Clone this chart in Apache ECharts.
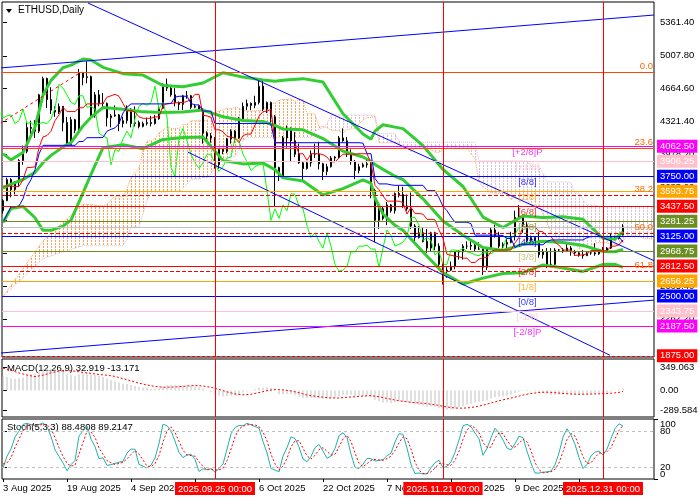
<!DOCTYPE html>
<html><head><meta charset="utf-8">
<script src="https://cdn.jsdelivr.net/npm/echarts@6/dist/echarts.min.js"></script>
<style>html,body{margin:0;padding:0;background:#fff}#chart{width:700px;height:500px}</style>
</head><body><div id="chart"></div>
<script>
// ================= DATA =================
// daily bars, index 0 = 3 Aug 2025
const openP = [3390,3495,3715,3610,3685,3915,4010,4260,4250,4220,
4600,4770,4550,4440,4420,4480,4310,4080,4340,4230,
4830,4780,4790,4380,4600,4510,4510,4360,4380,4390,
4300,4330,4450,4300,4310,4270,4300,4310,4300,4350,
4460,4710,4670,4600,4520,4500,4590,4590,4470,4480,
4450,4200,4170,4150,3870,4030,4010,4140,4220,4150,
4350,4480,4510,4490,4520,4690,4450,4520,4370,3840,
3750,4150,4250,4120,3980,3890,3830,3890,3980,3980,
3880,3800,3850,3940,3950,4150,4120,3980,3900,3810,
3850,3870,3880,3600,3290,3410,3310,3450,3390,3570,
3560,3440,3410,3230,3110,3160,3070,3000,3160,3020,
2830,2760,2770,2810,2960,2960,3020,3020,3030,2990,
2990,2800,3000,3190,3130,3020,3040,3060,3120,3320,
3320,3240,3080,3110,3080,2930,2960,2830,2830,2980,
2980,2970,3000,2960,2950,2930,2920,2950,2950,2940,
2970,2970,3000,3120,3100,3140];
const highP = [3510,3735,3730,3700,3930,4070,4325,4330,4335,4610,
4790,4780,4680,4480,4510,4480,4370,4370,4350,4870,
4840,4950,4800,4630,4650,4620,4520,4400,4490,4400,
4370,4490,4460,4480,4330,4320,4360,4380,4390,4480,
4720,4770,4680,4670,4530,4600,4640,4600,4500,4490,
4460,4220,4200,4160,4040,4040,4150,4240,4230,4370,
4520,4550,4520,4590,4760,4750,4530,4530,4390,3850,
4170,4280,4260,4210,4090,3900,3900,4020,4090,4110,
3890,3880,3960,3960,4170,4250,4160,4030,3920,3880,
3890,3920,3890,3620,3460,3440,3480,3460,3580,3650,
3640,3560,3580,3250,3230,3210,3200,3170,3170,3050,
2850,2800,2860,2970,2980,3040,3070,3080,3040,3060,
3000,3010,3210,3240,3170,3060,3100,3170,3390,3450,
3330,3270,3130,3110,3170,2990,3000,3000,3000,2990,
3000,3060,3020,2980,2960,2980,2960,2960,3050,2990,
3010,3010,3150,3130,3150,3250];
const lowP = [3360,3490,3530,3560,3650,3870,3990,4150,4150,4200,
4580,4460,4400,4370,4400,4220,4060,4070,4200,4230,
4700,4720,4360,4360,4480,4450,4270,4260,4370,4220,
4260,4300,4260,4270,4250,4260,4280,4270,4290,4340,
4450,4640,4580,4480,4440,4440,4560,4450,4460,4440,
4090,4130,4100,3830,3830,3980,3990,4090,4100,4140,
4340,4440,4440,4460,4500,4430,4410,4300,3440,3700,
3740,4050,3900,3950,3880,3690,3820,3850,3940,3820,
3710,3760,3840,3910,3940,4110,3950,3870,3720,3780,
3840,3840,3520,3060,3200,3290,3240,3370,3360,3530,
3420,3390,3200,3070,3100,3060,2950,2960,2980,2800,
2620,2690,2760,2780,2880,2880,2990,2980,2960,2980,
2720,2770,2990,3110,3000,3000,2990,3050,3080,3300,
3160,3060,3070,3040,2900,2890,2790,2800,2820,2960,
2950,2960,2920,2920,2910,2890,2920,2930,2920,2930,
2960,2960,2990,3080,3090,3130];
const closeP = [3495,3715,3610,3685,3915,4010,4260,4250,4220,4600,
4770,4550,4440,4420,4480,4310,4080,4340,4230,4830,
4780,4790,4380,4600,4510,4510,4360,4380,4390,4300,
4330,4450,4300,4310,4270,4300,4310,4300,4350,4460,
4710,4670,4600,4520,4500,4590,4590,4470,4480,4450,
4200,4170,4150,3870,4030,4010,4140,4220,4150,4350,
4480,4510,4490,4520,4690,4450,4520,4370,3840,3750,
4150,4250,4120,3980,3890,3830,3890,3980,3980,3880,
3800,3850,3940,3950,4150,4120,3980,3900,3810,3850,
3870,3880,3600,3290,3410,3310,3450,3390,3570,3560,
3440,3410,3230,3110,3160,3070,3000,3160,3020,2830,
2760,2770,2810,2960,2960,3020,3020,3030,2990,2990,
2800,3000,3190,3130,3020,3040,3060,3120,3320,3320,
3240,3080,3110,3080,2930,2960,2830,2830,2980,2980,
2970,3000,2960,2950,2930,2920,2950,2950,2940,2970,
2970,3000,3120,3100,3140,3220];

// Bollinger bands (20,2) [barIndex, price]
const bbUpper = [[0,3986],[2,3921],[5,3998],[8,4263],[10,4598],[12,4751],[15,4883],[17,4910],[20,4973],[22,4964],[25,4887],[30,4821],[35,4806],[40,4697],[45,4685],[50,4723],[55,4830],[60,4785],[65,4755],[68,4742],[70,4753],[75,4769],[80,4733],[85,4403],[90,4191],[92,4137],[93,4221],[95,4288],[98,4263],[100,4247],[105,4070],[110,3821],[115,3643],[120,3324],[125,3215],[130,3336],[135,3319],[140,3326],[145,3301],[150,3100],[153,3094],[155,3172]];
const bbMiddle = [[0,3626],[2,3667],[5,3716],[8,3790],[10,3891],[12,3968],[15,4056],[17,4101],[20,4275],[22,4367],[25,4467],[30,4450],[35,4422],[40,4415],[45,4420],[50,4441],[55,4371],[60,4332],[65,4321],[68,4280],[70,4243],[75,4235],[80,4144],[85,4012],[90,3951],[92,3906],[93,3872],[95,3822],[98,3750],[100,3716],[105,3514],[110,3282],[115,3134],[120,3005],[125,2975],[130,3039],[135,3071],[140,3059],[145,3028],[150,2964],[153,2962],[155,2985]];
const bbLower = [[0,3266],[2,3413],[5,3435],[8,3317],[10,3185],[12,3185],[15,3229],[17,3292],[20,3577],[22,3770],[25,4048],[30,4080],[35,4038],[40,4134],[45,4155],[50,4160],[55,3913],[60,3879],[65,3887],[68,3819],[70,3733],[75,3701],[80,3555],[85,3621],[90,3711],[92,3676],[93,3523],[95,3356],[98,3237],[100,3185],[105,2959],[110,2744],[115,2625],[120,2686],[125,2735],[130,2743],[135,2824],[140,2793],[145,2756],[150,2829],[153,2830],[155,2799]];
// Ichimoku (9,26,52): tenkan / kijun one value per bar
const tenkan = [3647.5,3647.5,3647.5,3642.5,3642.5,3712.5,3840,3842.5,3847.5,4050,
4160,4175,4220,4330,4390,4470,4425,4425,4425,4465,
4465,4505,4505,4505,4505,4510,4575,4590,4605,4585,
4510,4435,4435,4420,4370,4355,4355,4355,4370,4370,
4485,4510,4510,4515,4520,4520,4530,4555,4605,4605,
4385,4380,4365,4235,4235,4215,4165,4160,4145,4100,
4175,4190,4190,4285,4375,4425,4430,4450,4100,4100,
4100,4100,4100,4095,3985,3985,3915,3985,3985,3985,
3975,3950,3900,3900,3940,3980,3980,3980,3980,3985,
3985,3985,3885,3655,3610,3545,3490,3490,3490,3490,
3475,3355,3425,3360,3360,3355,3300,3300,3295,3190,
3100,2935,2925,2915,2910,2895,2895,2850,2850,2885,
2900,2900,2965,2980,2980,2980,2980,2980,3055,3110,
3220,3220,3220,3220,3175,3170,3120,3120,3060,3030,
2980,2980,2980,2925,2925,2930,2940,2975,2975,2975,
2970,2970,3020,3020,3035,3085];
const kijun = [3270,3350,3430,3430,3440,3515,3642.5,3715,3817.5,3982.5,
4072.5,4072.5,4072.5,4072.5,4072.5,4072.5,4072.5,4072.5,4072.5,4112.5,
4112.5,4152.5,4152.5,4152.5,4152.5,4155,4220,4240,4255,4300,
4410,4470,4505,4505,4505,4505,4505,4505,4505,4505,
4505,4505,4510,4575,4585,4585,4585,4510,4495,4495,
4430,4430,4430,4300,4300,4300,4300,4300,4300,4300,
4300,4300,4300,4300,4300,4300,4300,4295,4100,4100,
4100,4100,4100,4100,4100,4100,4100,4100,4100,4100,
4100,4100,4100,4100,4100,4100,4100,4100,4100,4100,
4095,3985,3985,3725,3670,3670,3670,3660,3655,3655,
3655,3655,3655,3655,3655,3655,3600,3600,3600,3525,
3435,3390,3325,3270,3270,3270,3270,3255,3135,3135,
3135,3135,3135,3135,3135,3130,3100,3100,3005,3035,
3035,3035,3035,3035,3035,3035,3070,3085,3085,3085,
3085,3085,3085,3085,3085,3085,3110,3120,3120,3120,
3120,3120,3120,3120,3120,3060];
// Senkou spans, value at source bar 0..137 (plotted kumoShift bars ahead)
const senkouA = [3459,3499,3539,3536,3541,3614,3741,3779,3832.5,4016,
4116,4124,4146,4201,4231,4271,4249,4249,4249,4289,
4289,4329,4329,4329,4329,4332.5,4397.5,4415,4430,4442.5,
4460,4452.5,4470,4462.5,4437.5,4430,4430,4430,4437.5,4437.5,
4495,4507.5,4510,4545,4552.5,4552.5,4557.5,4532.5,4550,4550,
4407.5,4405,4397.5,4267.5,4267.5,4257.5,4232.5,4230,4222.5,4200,
4237.5,4245,4245,4292.5,4337.5,4362.5,4365,4372.5,4100,4100,
4100,4100,4100,4097.5,4042.5,4042.5,4007.5,4042.5,4042.5,4042.5,
4037.5,4025,4000,4000,4020,4040,4040,4040,4040,4042.5,
4040,3985,3935,3690,3640,3607.5,3580,3575,3572.5,3572.5,
3565,3505,3540,3507.5,3507.5,3505,3450,3450,3447.5,3357.5,
3267.5,3162.5,3125,3092.5,3090,3082.5,3082.5,3052.5,2992.5,3010,
3017.5,3017.5,3050,3057.5,3057.5,3055,3040,3040,3030,3072.5,
3127.5,3127.5,3127.5,3127.5,3105,3102.5,3095,3102.5];
const senkouB = [3025,3025,3025,3025,3025,3090,3217.5,3220,3222.5,3360,
3495,3585,3585,3585,3585,3590,3590,3590,3590,3630,
3670,3710,3720,3725,3735,3735,3775,3855,3935,3935,
3945,3955,3955,4025,4125,4152.5,4152.5,4152.5,4152.5,4152.5,
4152.5,4152.5,4152.5,4152.5,4152.5,4152.5,4152.5,4152.5,4152.5,4152.5,
4152.5,4155,4220,4240,4255,4300,4390,4390,4390,4390,
4390,4390,4390,4390,4390,4390,4390,4390,4195,4195,
4195,4195,4195,4120,4105,4105,4105,4105,4105,4105,
4105,4105,4105,4105,4105,4105,4105,4105,4105,4105,
4105,4105,4105,3910,3910,3910,3910,3910,3910,3910,
3910,3910,3910,3910,3910,3910,3855,3855,3855,3780,
3690,3690,3690,3690,3690,3690,3685,3575,3575,3505,
3450,3450,3450,3440,3435,3435,3435,3435,3435,3435,
3435,3435,3435,3435,3435,3435,3435,3390];
// kumo points before the first bar's projection [displayIndex]
const kumoEarlyIdx = [0,10,20,25];
const kumoEarlyA = [2495,3075,3462,3439];
const kumoEarlyB = [2495,2890,3025,3025];
const kumoShift = 26;
const chikouShift = 26;

// MACD(12,26,9): main line (histogram), one value per bar
const macdMain = [207,199.1,182.4,173.2,182.3,194.9,222.5,240.8,250.0,284.6,
322.1,330.2,324.1,314.1,307.3,285.0,246.0,233.3,212.0,240.6,
256.4,266.5,238.7,231.8,216.6,202.2,176.7,156.3,139.3,117.3,
101.1,96.8,80.3,67.3,53.1,43.8,36.8,30.2,28.6,35.8,
60.9,76.8,82.7,80.1,75.5,78.2,79.5,69.9,62.4,53.5,
25.9,1.6,-18.9,-57.3,-73.8,-87.6,-87.1,-79.3,-77.8,-59.8,
-34.7,-12.2,3.9,18.9,44.0,44.1,49.1,40.6,-8.8,-54.6,
-57.9,-51.9,-57.0,-71.5,-89.3,-106.9,-114.8,-112.4,-109.2,-113.4,
-121.9,-123.1,-115.5,-107.4,-83.9,-67.0,-64.1,-67.5,-76.5,-79.6,
-79.5,-77.7,-97.7,-136.9,-156.6,-178.1,-181.9,-187.5,-175.4,-164.7,
-170,-172,-186,-205,-215,-228,-242,-238,-244,-262,
-280,-289.6,-287,-271,-254,-233,-213,-194,-180,-167,
-160.9,-146.8,-118.9,-100.5,-93.7,-85.7,-76.8,-64.2,-37.8,-16.6,
-6.1,-10.6,-11.6,-14.7,-28.9,-37.3,-53.8,-66.2,-63.2,-60.1,
-57.8,-52.9,-51.7,-50.9,-51.3,-51.9,-49.4,-46.8,-45.0,-40.7,
-36.8,-31.0,-16.5,-2,14,32.919];
// MACD signal [barIndex, value]
const macdSignal = [[0,331],[2,300],[4,260],[6,230],[8,206],[10,228.1],[12,261.3],[14,288.4],[16,295.9],[18,286.0],[20,268.8],[22,254.0],[24,238.0],[26,226.8],[28,209.4],[30,175.6],[32,143.0],[34,109.8],[36,81.8],[38,59.8],[40,48.5],[42,49.9],[44,56.4],[46,66.5],[48,74.0],[50,67.5],[52,47.5],[54,15.9],[56,-20.1],[58,-50.5],[60,-64.0],[62,-56.5],[64,-31.6],[66,-2.7],[68,16.1],[70,8.8],[72,-5.8],[74,-33.5],[76,-68.1],[78,-85.7],[80,-99.6],[82,-111.8],[84,-111.3],[86,-100.6],[88,-91.9],[90,-82.3],[92,-77.1],[94,-92.9],[96,-118.3],[98,-141.3],[100,-161.0],[102,-174.7],[104,-184.2],[106,-195.3],[108,-211.1],[110,-233.3],[112,-254.0],[114,-263.1],[116,-259.3],[118,-244.6],[120,-217.8],[122,-185.3],[124,-152.8],[126,-125.6],[128,-98.4],[130,-66.7],[132,-44.8],[134,-29.7],[136,-24.2],[138,-32.5],[140,-43.7],[142,-52.4],[144,-56.4],[146,-54.4],[148,-50.9],[150,-47.2],[152,-41.0],[154,-28.2],[155,-13.171]];
// Stochastic(5,3,3) main and signal, one value per bar
const stochK = [18,38,50,70,80,91,92.8,90.4,88.4,90.7,
93.5,87.6,70.7,48.7,37.6,26.8,13.8,23.9,30.9,71.3,
80.2,88.4,66.4,54.0,34.0,35.3,22.8,23.8,26.0,28.0,
29.4,43.3,50.0,49.4,24.4,21.3,18.3,22.9,35.0,59.3,
91.4,88.9,80.4,63.1,44.4,35.8,40.0,41.3,32.8,12.7,
16.8,15.9,17.0,11.4,17.6,25.0,49.6,75.2,85.7,89.3,
88.7,92.8,90.3,87.5,84.8,62.5,43.6,17.5,15,12,
38.2,52.4,70.3,67.6,53.6,33.3,28.8,37.5,52.3,57.5,
46.7,34.4,38.3,50.8,72.2,77.0,69.1,41.4,19.7,17.4,
24.7,34.4,33.9,29.9,31.1,32.2,38.8,43.1,61.6,75.6,
74.2,51.4,24.3,9.1,10.0,8.4,8.7,18.6,27.3,31.3,
18.9,20.8,28.6,44.4,64.9,88.6,91.2,87.5,76.5,67.1,
39.5,51.1,68.6,84.7,77.1,64.9,51.6,48.5,58.9,71.2,
68.9,46.2,26.4,10.0,9.8,11.5,11.8,13.2,23.7,43.3,
70.0,83.8,73.2,57.8,35.8,17.4,24.4,38.5,44.7,46.3,
40.0,50.0,67.3,84,92,88.48];
const stochD = [25,27,35.3,52.7,66.7,80.3,87.9,91.4,90.5,89.8,
90.9,90.6,83.9,69.0,52.3,37.7,26.1,21.5,22.9,42.0,
60.8,80.0,78.3,69.6,51.5,41.1,30.7,27.3,24.2,25.9,
27.8,33.6,40.9,47.6,41.3,31.7,21.3,20.8,25.4,39.1,
61.9,79.9,86.9,77.5,62.6,47.8,40.1,39.0,38.0,28.9,
20.8,15.1,16.6,14.8,15.3,18.0,30.7,49.9,70.2,83.4,
87.9,90.3,90.6,90.2,87.5,78.3,63.6,41.2,25.4,14.8,
21.7,34.2,53.6,63.4,63.8,51.5,38.6,33.2,39.5,49.1,
52.2,46.2,39.8,41.2,53.8,66.7,72.8,62.5,43.4,26.2,
20.6,25.5,31.0,32.7,31.6,31.1,34.0,38.0,47.8,60.1,
70.5,67.1,50.0,28.3,14.5,9.2,9.0,11.9,18.2,25.7,
25.8,23.7,22.8,31.3,46.0,66.0,81.6,89.1,85.1,77.0,
61.0,52.6,53.1,68.1,76.8,75.6,64.5,55.0,53.0,59.5,
66.3,62.1,47.2,27.5,15.4,10.4,11.0,12.2,16.2,26.7,
45.7,65.7,75.7,71.6,55.6,37.0,25.9,26.8,35.9,43.2,
43.7,45.4,52.4,67,81,89.21];

// Axis ticks / labels
const xTickIdx = [0,16,32,48,64,80,96,112,128,144];
const xTickLabels = ['3 Aug 2025','19 Aug 2025','4 Sep 2025','20 Sep 2025','6 Oct 2025','22 Oct 2025','7 Nov 2025','23 Nov 2025','9 Dec 2025','25 Dec 2025'];
const priceTicks = [5361.40,5007.80,4664.60,4321.40,3978.20,3635.00,3291.80,2948.60,2605.40,2262.20];
const macdTicks = [-289.584,0,349.063];
const macdTickLabels = ['-289.584','0.00','349.063'];
const stochLevelTicks = [20,80];
const stochEdgeTicks = [0,100];
// Murrey math levels
const murreyLevels = [4062.50,3906.25,3750.00,3593.75,3437.50,3281.25,3125.00,2968.75,2812.50,2656.25,2500.00,2343.75,2187.50];
const murreyNames = ['[+2/8]P','[+1/8]','[8/8]','[7/8]','[6/8]','[5/8]','[4/8]','[3/8]','[2/8]','[1/8]','[0/8]','[-1/8]','[-2/8]P'];
const murreyColors = ['#FF00FF','#FFC0CB','#0000FF','#FFA500','#FF0000','#6B8E23','#0000FF','#6B8E23','#FF0000','#FFA500','#0000FF','#FFC0CB','#FF00FF'];
const murreyTextColors = ['#FF00FF','#FFC0CB','#0000FF','#FFA500','#FF0000','#6B8E23','#0000FF','#BDB76B','#FF0000','#FFA500','#0000FF','#FFC0CB','#FF00FF'];
const extraLevel = 1875.00;
// Fibonacci retracement
const fibLevels = [4831,4040,3551,3156,2760];
const fibNames = ['0.0','23.6','38.2','50.0','61.8'];
const fibDashed = [false,false,true,true,true];
const fibAnchor = [[-0.75,4300],[19.25,4831]];
// trend lines [barIndex, price]
const trendTop = [[-0.75,4880],[162.75,5433]];
const trendDownUpper = [[21.25,5558],[162.75,2868]];
const trendDownLower = [[46.25,4001],[151.75,1881]];
const trendUpLower = [[-0.75,1904],[162.75,2457]];
// vertical markers
const vLineIdx = [53,110,150];
const vLineLabels = ['2025.09.25 00:00','2025.11.21 00:00','2025.12.31 00:00'];

// ================= CHART =================
const FONT = 'Liberation Sans';
const FS = 9.5;
const X_MIN = -0.25, X_MAX = 162.75;
const MURREY_TEXT_X = 131.1;
const chart = echarts.init(document.getElementById('chart'), null, {renderer:'canvas', width:700, height:500});

function hatch(color){
  const c = document.createElement('canvas'); c.width = 4; c.height = 3;
  const g = c.getContext('2d'); g.fillStyle = color; g.fillRect(3,0,1,2);
  return {image: c, repeat: 'repeat'};
}
const upPat = hatch('#F4A460'), dnPat = hatch('#D8BFD8');

const candleData = openP.map((o,i)=>[i, o, closeP[i], lowP[i], highP[i]]);
const chikou = closeP.map((c,i)=>[i-chikouShift, c]).filter(p=>p[0] >= -1);
const tenkanLine = tenkan.map((v,i)=>[i, v]);
const kijunLine = kijun.map((v,i)=>[i, v]);
const cloudPts = kumoEarlyIdx.map((x,k)=>[x, kumoEarlyA[k], kumoEarlyB[k]])
  .concat(senkouA.map((a,i)=>[i+kumoShift, a, senkouB[i]]));
const macdBars = macdMain.map((v,i)=>[i, v]);
const kLine = stochK.map((v,i)=>[i, v]);
const dLine = stochD.map((v,i)=>[i, v]);

function cloudRender(params, api){
  const k = params.dataIndex;
  if (k === 0) return null;
  const a = cloudPts[k-1], b = cloudPts[k];
  const P = (x,y)=>api.coord([x,y]);
  const d1 = a[1]-a[2], d2 = b[1]-b[2];
  const children = [];
  const poly = (pts, up)=>children.push({type:'polygon', shape:{points:pts}, style:{fill: up ? upPat : dnPat}});
  if (d1*d2 >= 0) {
    poly([P(a[0],a[1]),P(b[0],b[1]),P(b[0],b[2]),P(a[0],a[2])], (d1+d2) >= 0);
  } else {
    const t = d1/(d1-d2), xc = a[0]+t*(b[0]-a[0]), yc = a[1]+t*(b[1]-a[1]);
    poly([P(a[0],a[1]),P(xc,yc),P(a[0],a[2])], d1 > 0);
    poly([P(xc,yc),P(b[0],b[1]),P(b[0],b[2])], d2 > 0);
  }
  return {type:'group', children};
}

const gridBase = {show:true, borderColor:'#000', borderWidth:1, backgroundColor:'#fff', containLabel:false, outerBoundsMode:'none'};
const grids = [
  Object.assign({left:2, top:2, width:652, height:355}, gridBase),
  Object.assign({left:2, top:359, width:652, height:58}, gridBase),
  Object.assign({left:2, top:419, width:652, height:60}, gridBase)
];
function xAxisFor(idx){
  const show = idx === 2;
  return {type:'value', gridIndex:idx, min:X_MIN, max:X_MAX, axisLine:{show:false}, splitLine:{show:false},
    axisTick: show ? {show:true, customValues:xTickIdx, length:3, lineStyle:{color:'#000'}} : {show:false},
    axisLabel: show ? {show:true, customValues:xTickIdx, formatter:v=>xTickLabels[xTickIdx.indexOf(v)], align:'left', color:'#000', fontFamily:FONT, fontSize:FS, margin:4} : {show:false}};
}
const yLbl = {color:'#000', fontFamily:FONT, fontSize:FS, margin:6, align:'left', showMinLabel:true, showMaxLabel:true, hideOverlap:false};
const yAxes = [
  {type:'value', gridIndex:0, position:'right', min:1863, max:5569, axisLine:{show:false}, splitLine:{show:false},
    axisTick:{show:true, customValues:priceTicks, length:4, lineStyle:{color:'#000'}},
    axisLabel:Object.assign({customValues:priceTicks, formatter:v=>v.toFixed(2)}, yLbl)},
  {type:'value', gridIndex:1, position:'right', min:-393.5, max:467.9, axisLine:{show:false}, splitLine:{show:false},
    axisTick:{show:true, customValues:macdTicks, length:4, lineStyle:{color:'#000'}},
    axisLabel:Object.assign({customValues:macdTicks, formatter:v=>macdTickLabels[macdTicks.indexOf(v)]}, yLbl)},
  {type:'value', gridIndex:2, position:'right', min:0, max:100, axisLine:{show:false}, splitLine:{show:false},
    axisTick:{show:true, customValues:stochLevelTicks, length:4, lineStyle:{color:'#000'}},
    axisLabel:Object.assign({customValues:stochLevelTicks, formatter:v=>String(v)}, yLbl)},
  {type:'value', gridIndex:2, position:'right', min:0, max:100, axisLine:{show:false}, splitLine:{show:false},
    axisTick:{show:true, customValues:stochEdgeTicks, length:4, lineStyle:{color:'#000'}},
    axisLabel:Object.assign({customValues:stochEdgeTicks, formatter:v=>String(v), verticalAlignMinLabel:'bottom', verticalAlignMaxLabel:'top'}, yLbl)}
];

const boxLabel = (txt, bg)=>({show:true, position:'end', distance:3, formatter:txt, backgroundColor:bg, color:'#fff', padding:[1,3,0,3], fontFamily:FONT, fontSize:FS, lineHeight:12});
const hLines = [];
hLines.push({yAxis:closeP[closeP.length-1], lineStyle:{color:'#C0C0C0', width:1, type:'solid'}, label:{show:false}});
fibLevels.forEach((v,k)=>hLines.push({yAxis:v, lineStyle:{color: fibDashed[k] ? '#FF0000' : '#FF4500', width:1, type: fibDashed[k] ? [4,2] : 'solid'}, label:{show:true, position:'insideEndTop', distance:1, formatter:fibNames[k], color:'#FF6A00', fontFamily:FONT, fontSize:FS}}));
murreyLevels.forEach((v,k)=>hLines.push({yAxis:v, lineStyle:{color:murreyColors[k], width:1, type:'solid'}, label:boxLabel(v.toFixed(2), murreyColors[k])}));
hLines.push({yAxis:extraLevel, lineStyle:{color:'#FF0000', width:1, type:[3,2]}, label:boxLabel(extraLevel.toFixed(2), '#FF0000')});
const vLinesPlain = vLineIdx.map(x=>({xAxis:x, lineStyle:{color:'#FF0000', width:1, type:'solid'}, label:{show:false}}));
const vLinesLabeled = vLineIdx.map((x,k)=>({xAxis:x, lineStyle:{color:'#FF0000', width:1, type:'solid'},
  label:{show:true, position:'start', distance:3, formatter:vLineLabels[k], backgroundColor:'#FF0000', color:'#fff', padding:[1,3,0,3], fontFamily:FONT, fontSize:FS, lineHeight:12}}));

const lineS = (data, color, width, extra)=>Object.assign({type:'line', data, xAxisIndex:0, yAxisIndex:0, showSymbol:false, symbol:'none', lineStyle:{color, width}, silent:true, clip:true, z:3}, extra||{});

const option = {
  animation:false,
  textStyle:{fontFamily:FONT},
  grid:grids,
  xAxis:[xAxisFor(0), xAxisFor(1), xAxisFor(2)],
  yAxis:yAxes,
  series:[
    {type:'custom', name:'kumo', xAxisIndex:0, yAxisIndex:0, data:cloudPts, encode:{x:0, y:[1,2]}, renderItem:cloudRender, clip:true, silent:true, z:1},
    lineS(cloudPts.map(p=>[p[0], p[1]]), '#F4A460', 1, {lineStyle:{color:'#F4A460', width:1, type:[1,1]}, z:1}),
    lineS(cloudPts.map(p=>[p[0], p[2]]), '#D8BFD8', 1, {lineStyle:{color:'#D8BFD8', width:1, type:[1,1]}, z:1}),
    {type:'candlestick', xAxisIndex:0, yAxisIndex:0, data:candleData, barWidth:2, silent:true, z:2,
      itemStyle:{color:'#fff', color0:'#000', borderColor:'#000', borderColor0:'#000', borderWidth:1}},
    lineS(bbUpper, '#32CD32', 3),
    lineS(bbMiddle, '#32CD32', 3),
    lineS(bbLower, '#32CD32', 3),
    lineS(chikou, '#00FF00', 1),
    lineS(tenkanLine, '#FF0000', 1),
    lineS(kijunLine, '#0000FF', 1),
    lineS(trendTop, '#0000FF', 1, {z:4}),
    lineS(trendDownUpper, '#0000FF', 1, {z:4}),
    lineS(trendDownLower, '#0000FF', 1, {z:4}),
    lineS(trendUpLower, '#0000FF', 1, {z:4}),
    lineS(fibAnchor, '#FF0000', 1, {lineStyle:{color:'#FF0000', width:1, type:[3,3]}, z:4}),
    {type:'line', xAxisIndex:0, yAxisIndex:0, data:[[-100,3000]], symbol:'none', silent:true, z:4,
      markLine:{symbol:['none','none'], silent:true, animation:false, data:hLines.concat(vLinesPlain)}},
    {type:'scatter', xAxisIndex:0, yAxisIndex:0, symbolSize:0, silent:true, z:5,
      data:murreyLevels.map((v,k)=>({value:[MURREY_TEXT_X, v], label:{show:true, formatter:murreyNames[k], color:murreyTextColors[k], position:[0,1], align:'center', verticalAlign:'top', fontFamily:FONT, fontSize:FS}}))},
    // MACD
    {type:'bar', xAxisIndex:1, yAxisIndex:1, data:macdBars, barWidth:1, itemStyle:{color:'#C0C0C0'}, silent:true,
      markLine:{symbol:['none','none'], silent:true, animation:false, data:vLinesPlain}},
    {type:'line', xAxisIndex:1, yAxisIndex:1, data:macdSignal, symbol:'none', silent:true, lineStyle:{color:'#FF0000', width:1, type:[2,2]}},
    // Stochastic
    {type:'line', xAxisIndex:2, yAxisIndex:2, data:kLine, symbol:'none', silent:true, lineStyle:{color:'#20B2AA', width:1},
      markLine:{symbol:['none','none'], silent:true, animation:false, data:[
        {yAxis:20, lineStyle:{color:'#C0C0C0', width:1, type:[3,3]}, label:{show:false}},
        {yAxis:80, lineStyle:{color:'#C0C0C0', width:1, type:[3,3]}, label:{show:false}}].concat(vLinesLabeled)}},
    {type:'line', xAxisIndex:2, yAxisIndex:2, data:dLine, symbol:'none', silent:true, lineStyle:{color:'#FF0000', width:1, type:[2,2]}}
  ],
  graphic:[
    {type:'polygon', shape:{points:[[6,9],[12,9],[9,13]]}, style:{fill:'#000'}},
    {type:'text', left:18, top:5, style:{text:'ETHUSD,Daily', fill:'#000', font:'10px "Liberation Sans"'}},
    {type:'text', left:7, top:363, style:{text:'MACD(12,26,9) 32.919 -13.171', fill:'#000', font:'9.5px "Liberation Sans"'}},
    {type:'text', left:7, top:422, style:{text:'Stoch(5,3,3) 88.4808 89.2147', fill:'#000', font:'9.5px "Liberation Sans"'}}
  ]
};
chart.setOption(option);
</script>
</body></html>
